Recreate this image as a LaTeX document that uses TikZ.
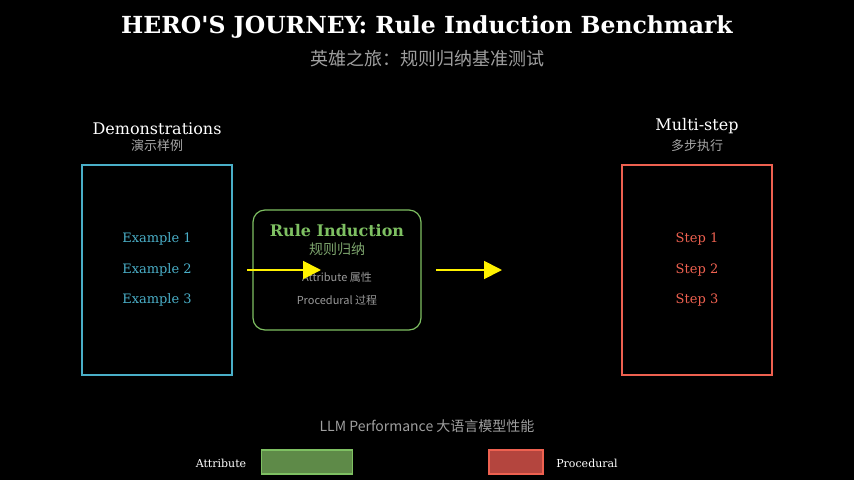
\documentclass[tikz,border=0pt]{standalone}
\usepackage{fontspec}
\setmainfont{DejaVu Serif}
\newfontfamily\plainserif{DejaVu Serif}
\newfontfamily\cjk{Noto Sans CJK SC}
\usetikzlibrary{arrows.meta}
\begin{document}
\begin{tikzpicture}[x=1pt,y=-1pt,
  lbl/.style={font=\fontsize{13}{15}\selectfont},
  sub/.style={font=\cjk\fontsize{13}{15}\selectfont,text=gray!70},
  arr/.style={yellow,line width=1.8pt,-{Triangle[length=18pt,width=18pt]}}]
\definecolor{cyn}{HTML}{4AAFC8}
\definecolor{grn}{HTML}{7EC062}
\definecolor{rd}{HTML}{EE6150}
\definecolor{gfill}{HTML}{5E8A48}
\definecolor{rfill}{HTML}{B4453E}
\fill[black] (0,0) rectangle (854,480);
\useasboundingbox (0,0) rectangle (854,480);
\node[text=white,font=\plainserif\bfseries\fontsize{23.5}{26}\selectfont] (title) at (427,27) {HERO'S JOURNEY: Rule Induction Benchmark};
\node[text=gray!75,font=\cjk\fontsize{18}{20}\selectfont] (subtitle) at (427,59) {英雄之旅：规则归纳基准测试};
% left
\node[text=white,font=\fontsize{16}{18}\selectfont] (demo) at (157,129) {Demonstrations};
\node[sub] (demosub) at (157,146) {演示样例};
\node[draw=cyn,line width=1.2pt,minimum width=150pt,minimum height=210pt] (lbox) at (157,270) {};
\node[lbl,text=cyn] (e1) at (157,239) {Example 1};
\node[lbl,text=cyn] (e2) at (157,270) {Example 2};
\node[lbl,text=cyn] (e3) at (157,300) {Example 3};
% middle
\node[draw=grn,line width=1.2pt,rounded corners=12pt,minimum width=168pt,minimum height=120pt] (mbox) at (337,270) {};
\node[text=grn,font=\bfseries\fontsize{16}{18}\selectfont] (ri) at (337,231) {Rule Induction};
\node[text=grn!60!gray,font=\cjk\fontsize{14}{16}\selectfont] (risub) at (337,249) {规则归纳};
\node[text=gray!80,font=\cjk\fontsize{11}{13}\selectfont] (attr) at (337,277) {Attribute 属性};
\node[text=gray!80,font=\cjk\fontsize{11}{13}\selectfont] (proc) at (337,300) {Procedural 过程};
\coordinate (a1s) at (247,270); \coordinate (a1e) at (321,270);
\coordinate (a2s) at (436,270); \coordinate (a2e) at (502,270);
\draw[arr] (a1s) -- (a1e);
\draw[arr] (a2s) -- (a2e);
% right
\node[text=white,font=\fontsize{16}{18}\selectfont] (ms) at (697,126) {Multi-step};
\node[sub] (mssub) at (697,146) {多步执行};
\node[draw=rd,line width=1.2pt,minimum width=150pt,minimum height=210pt] (rbox) at (697,270) {};
\node[lbl,text=rd] (s1) at (697,239) {Step 1};
\node[lbl,text=rd] (s2) at (697,270) {Step 2};
\node[lbl,text=rd] (s3) at (697,300) {Step 3};
% bottom
\node[text=gray!75,font=\cjk\fontsize{14}{16}\selectfont] (perf) at (427,426) {LLM Performance 大语言模型性能};
\node[text=white,font=\fontsize{11}{13}\selectfont] (la) at (221,463) {Attribute};
\node[draw=grn,fill=gfill,line width=1.5pt,minimum width=91pt,minimum height=24pt] (ga) at (307,462) {};
\node[draw=rd,fill=rfill,line width=1.5pt,minimum width=54pt,minimum height=24pt] (gp) at (516,462) {};
\node[text=white,font=\fontsize{11}{13}\selectfont] (lp) at (587,463) {Procedural};
\end{tikzpicture}
\end{document}
